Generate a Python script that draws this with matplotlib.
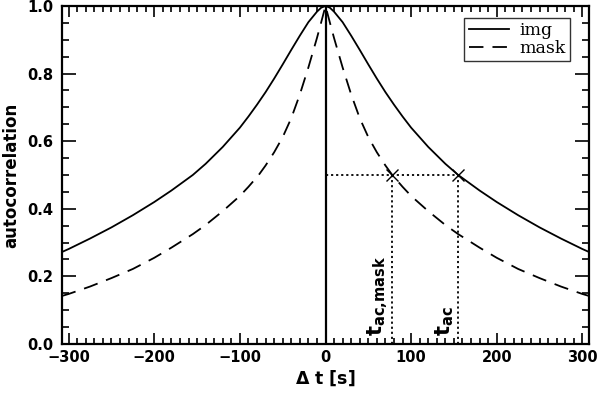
import matplotlib
matplotlib.use("Agg")
import matplotlib.pyplot as plt
from matplotlib.ticker import MultipleLocator, FormatStrFormatter

# autocorrelation curves (symmetric about dt = 0)
t_img = [-308, -300, -275, -250, -225, -200, -180, -155, -140, -120, -100, -90, -80, -70, -60, -50, -40, -30, -20, -10, -5, 0,
         5, 10, 20, 30, 40, 50, 60, 70, 80, 90, 100, 120, 140, 155, 180, 200, 225, 250, 275, 300, 308]
ac_img = [0.272, 0.281, 0.312, 0.345, 0.381, 0.42, 0.454, 0.50, 0.533, 0.583, 0.64, 0.673, 0.708, 0.745, 0.785, 0.827, 0.87, 0.912, 0.952, 0.983, 0.995, 1.0,
          0.995, 0.983, 0.952, 0.912, 0.87, 0.827, 0.785, 0.745, 0.708, 0.673, 0.64, 0.583, 0.533, 0.50, 0.454, 0.42, 0.381, 0.345, 0.312, 0.281, 0.272]

t_mask = [-308, -300, -275, -250, -225, -200, -180, -155, -140, -120, -100, -90, -78, -70, -60, -50, -40, -30, -20, -10, -5, 0,
          5, 10, 20, 30, 40, 50, 60, 70, 78, 90, 100, 120, 140, 155, 180, 200, 225, 250, 275, 300, 308]
ac_mask = [0.142, 0.148, 0.17, 0.195, 0.222, 0.255, 0.285, 0.325, 0.352, 0.393, 0.438, 0.465, 0.50, 0.528, 0.567, 0.612, 0.668, 0.738, 0.818, 0.905, 0.952, 1.0,
           0.952, 0.905, 0.818, 0.738, 0.668, 0.612, 0.567, 0.528, 0.50, 0.465, 0.438, 0.393, 0.352, 0.325, 0.285, 0.255, 0.222, 0.195, 0.17, 0.148, 0.142]

t_ac = 155
t_ac_mask = 78
half = 0.5

plt.rcParams["font.family"] = ["DejaVu Sans"]
plt.rcParams["font.weight"] = "bold"
plt.rcParams["mathtext.fontset"] = "dejavusans"

fig = plt.figure(figsize=(6.0, 3.97), dpi=100)
ax = fig.add_axes([0.103, 0.1335, 0.879, 0.8515])

ax.plot(t_img, ac_img, color="black", lw=1.3, label="img")
ax.plot(t_mask, ac_mask, color="black", lw=1.3, ls=(0, (8, 5)), label="mask")
ax.plot([0, 0], [0, 1], color="black", lw=1.6)

# half-width markers
ax.plot([0, t_ac], [half, half], color="black", lw=1.3, ls=(0, (1.2, 1.6)))
ax.plot([t_ac_mask, t_ac_mask], [0, half], color="black", lw=1.3, ls=(0, (1.2, 1.6)))
ax.plot([t_ac, t_ac], [0, half], color="black", lw=1.3, ls=(0, (1.2, 1.6)))
ax.plot([t_ac_mask, t_ac], [half, half], color="black", ls="none", marker="x", ms=8, mew=1.0)

ax.text(t_ac_mask - 3, 0.025, r"$\mathbf{t_{ac{,}mask}}$", rotation=90, ha="right", va="bottom", fontsize=15)
ax.text(t_ac - 3, 0.025, r"$\mathbf{t_{ac}}$", rotation=90, ha="right", va="bottom", fontsize=15)

ax.set_xlim(-308, 308)
ax.set_ylim(0, 1.0)
ax.xaxis.set_major_locator(MultipleLocator(100))
ax.xaxis.set_minor_locator(MultipleLocator(10))
ax.yaxis.set_major_locator(MultipleLocator(0.2))
ax.yaxis.set_minor_locator(MultipleLocator(0.05))
ax.yaxis.set_major_formatter(FormatStrFormatter("%.1f"))
ax.tick_params(which="both", direction="in", top=True, right=True, labelsize=10.5, width=1.2)
ax.tick_params(axis="x", which="major", length=8, pad=4)
ax.tick_params(axis="x", which="minor", length=4)
ax.tick_params(axis="y", which="major", length=10, pad=6)
ax.tick_params(axis="y", which="minor", length=5)
for s in ax.spines.values():
    s.set_linewidth(1.6)

ax.set_xlabel(r"$\mathbf{\Delta}$ t [s]", fontsize=12.5, fontweight="bold", labelpad=3)
ax.set_ylabel("autocorrelation", fontsize=12, fontweight="bold", labelpad=5)

leg = ax.legend(loc="upper right", bbox_to_anchor=(0.963, 0.965), frameon=True, fancybox=False,
                edgecolor="black", handlelength=2.3, borderpad=0.25, labelspacing=0.05, handletextpad=0.6,
                borderaxespad=0.0, prop={"family": "DejaVu Serif", "size": 12.5, "weight": "normal"})
leg.get_frame().set_linewidth(1.0)

fig.savefig("out.png", dpi=100)
